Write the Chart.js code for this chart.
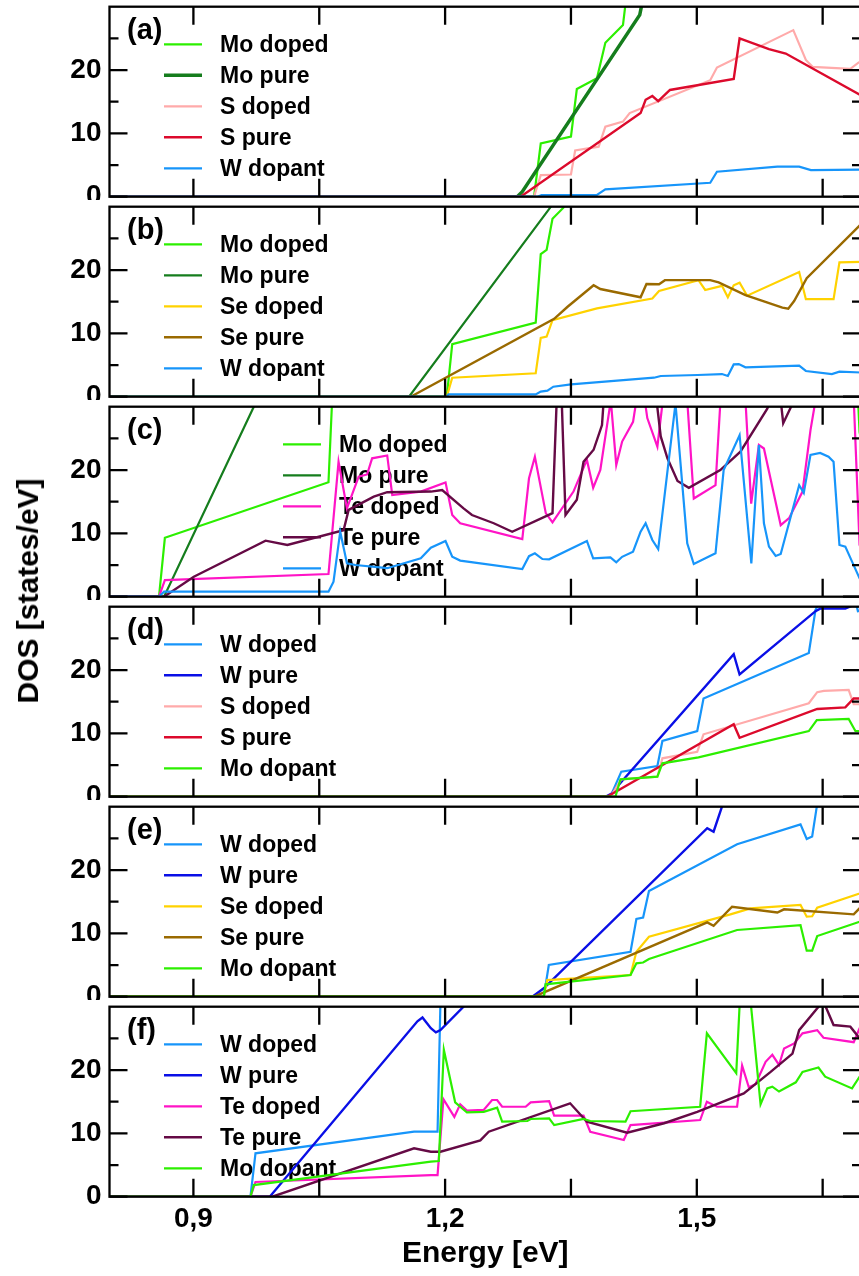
<!DOCTYPE html>
<html>
<head>
<meta charset="utf-8">
<script src="https://cdn.jsdelivr.net/npm/chart.js@4/dist/chart.umd.min.js"></script>
<style>
  html, body { margin: 0; padding: 0; background: #fff; }
  body { width: 859px; height: 1276px; overflow: hidden; position: relative; }
  canvas { position: absolute; left: 0; background: #fff; }
  #ytitle {
    position: absolute; left: 28px; top: 591px;
    transform: translate(-50%, -50%) rotate(-90deg);
    font: bold 30px "Liberation Sans", Arial, sans-serif;
    white-space: nowrap; color: #000; z-index: 10;
  }
</style>
</head>
<body>
<canvas id="pa" width="880" height="200" style="top:0px"></canvas>
<canvas id="pb" width="880" height="200" style="top:200px"></canvas>
<canvas id="pc" width="880" height="200" style="top:400px"></canvas>
<canvas id="pd" width="880" height="200" style="top:600px"></canvas>
<canvas id="pe" width="880" height="200" style="top:800px"></canvas>
<canvas id="pf" width="880" height="276" style="top:1000px"></canvas>
<div id="ytitle">DOS [states/eV]</div>
<script>
// axes
const xTickValues = [0.9, 1.05, 1.2, 1.35, 1.5, 1.65];
const xTickLabels = ["0,9", "", "1,2", "", "1,5", ""];
const yTickValues = [0, 10, 20];
const yMinorValues = [5, 15, 25];

// panel (a) : [energy eV, DOS]
const aMoDoped = [[0.80,0],[1.306,0],[1.314,8.4],[1.350,9.5],[1.357,17.0],[1.381,18.7],[1.391,24.3],[1.412,27.1],[1.420,36]];
const aMoPure = [[0.80,0],[1.286,0],[1.292,0.8],[1.432,28.7],[1.440,34]];
const aSDoped = [[0.80,0],[1.306,0],[1.314,3.4],[1.350,3.5],[1.355,7.3],[1.383,7.9],[1.391,11.05],[1.412,11.85],[1.420,13.2],[1.516,18.4],[1.524,20.4],[1.615,26.3],[1.630,21.6],[1.638,20.5],[1.683,20.2],[1.693,21.2],[1.70,21.5]];
const aSPure = [[0.80,0],[1.290,0],[1.433,13.2],[1.439,15.3],[1.447,15.9],[1.454,15.1],[1.468,16.85],[1.544,18.6],[1.551,25.0],[1.586,23.3],[1.606,22.6],[1.70,15.7]];
const aWDopant = [[0.80,0],[1.310,0],[1.315,0.25],[1.381,0.3],[1.391,1.16],[1.516,2.2],[1.524,3.95],[1.596,4.74],[1.622,4.74],[1.636,4.2],[1.70,4.27]];

// panel (b)
const bMoDoped = [[0.80,0],[1.202,0],[1.2085,8.3],[1.308,11.7],[1.314,22.5],[1.321,23.2],[1.328,28.1],[1.341,29.85],[1.350,33]];
const bMoPure = [[0.80,0],[1.157,0],[1.325,29.8],[1.335,31.6]];
const bSeDoped = [[0.80,0],[1.202,0],[1.2085,3.0],[1.308,3.7],[1.314,9.3],[1.321,9.5],[1.328,12.1],[1.381,13.95],[1.447,15.5],[1.455,16.7],[1.502,18.4],[1.510,16.85],[1.530,17.5],[1.537,15.7],[1.544,17.6],[1.551,18.0],[1.560,15.95],[1.622,19.7],[1.630,15.4],[1.663,15.4],[1.670,21.2],[1.70,21.3]];
const bSePure = [[0.80,0],[1.159,0],[1.330,12.3],[1.346,14.2],[1.377,17.6],[1.385,17.0],[1.433,15.7],[1.440,17.8],[1.455,17.75],[1.462,18.4],[1.516,18.4],[1.526,18.05],[1.558,16.05],[1.602,14.06],[1.609,13.9],[1.616,15.1],[1.631,18.7],[1.694,27.0],[1.70,27.8]];
const bWDopant = [[0.80,0],[1.202,0],[1.204,0.37],[1.308,0.37],[1.314,0.8],[1.322,0.95],[1.329,1.58],[1.350,1.95],[1.449,3.0],[1.457,3.27],[1.501,3.43],[1.530,3.58],[1.537,3.27],[1.544,5.1],[1.550,5.15],[1.558,4.64],[1.622,4.9],[1.630,4.06],[1.661,3.58],[1.670,3.95],[1.70,3.8]];

// panel (c)
const cMoDoped = [[0.80,0],[0.859,0],[0.866,9.3],[1.061,18.06],[1.065,30],[1.068,40],[1.689,40],[1.694,26],[1.70,22]];
const cMoPure = [[0.80,0],[0.865,0],[0.972,30],[0.98,32.2]];
const cTeDoped = [[0.80,0],[0.859,0],[0.866,2.63],[1.061,3.58],[1.073,21.3],[1.083,13.95],[1.097,18.95],[1.107,19.3],[1.113,21.85],[1.131,22.3],[1.137,16.06],[1.171,16.6],[1.2005,18.05],[1.2085,12.9],[1.218,11.6],[1.292,9.1],[1.300,18.7],[1.307,22.1],[1.320,13.2],[1.328,11.75],[1.353,16.6],[1.369,21.6],[1.3765,17.2],[1.385,20.0],[1.3975,31],[1.404,20.8],[1.411,24.5],[1.424,27.6],[1.428,31],[1.438,31],[1.441,28.2],[1.453,23.7],[1.4595,31],[1.4886,31],[1.4964,15.5],[1.5223,17.6],[1.5282,31],[1.558,31],[1.5648,14.7],[1.574,23.95],[1.580,23.4],[1.600,11.3],[1.610,12.4],[1.626,16.6],[1.6355,26.3],[1.6415,31],[1.6871,31],[1.694,8.2],[1.70,6]];
const cTePure = [[0.80,0],[0.865,0],[0.9005,3.16],[0.986,8.85],[1.012,8.16],[1.079,10.5],[1.085,13.7],[1.115,15.8],[1.131,16.5],[1.183,16.6],[1.1965,16.85],[1.222,13.95],[1.232,12.9],[1.258,11.6],[1.280,10.26],[1.328,13.2],[1.333,31],[1.339,31],[1.3435,12.9],[1.357,15.3],[1.365,21.3],[1.377,23.2],[1.387,27.1],[1.389,31],[1.452,31],[1.457,25.3],[1.465,21.85],[1.477,18.27],[1.4905,17.2],[1.528,20.0],[1.552,22.9],[1.584,29.7],[1.588,31],[1.600,31],[1.603,27.4],[1.616,31],[1.70,33]];
const cWDopant = [[0.80,0],[0.859,0],[0.865,0.8],[1.061,0.8],[1.067,2.37],[1.075,10.26],[1.083,5.27],[1.093,5.0],[1.131,4.5],[1.171,6.06],[1.183,7.74],[1.2005,8.8],[1.2085,6.3],[1.218,5.7],[1.292,4.37],[1.300,6.4],[1.307,6.85],[1.316,5.95],[1.324,5.9],[1.369,8.8],[1.3765,6.06],[1.397,6.2],[1.404,5.43],[1.411,6.3],[1.424,7.1],[1.433,10.26],[1.439,11.6],[1.447,8.95],[1.454,7.53],[1.4746,30.5],[1.4886,8.43],[1.4964,5.16],[1.5223,6.85],[1.532,20.0],[1.551,25.5],[1.565,5.27],[1.574,23.95],[1.580,11.6],[1.586,7.9],[1.594,6.43],[1.600,6.74],[1.622,17.6],[1.6275,16.4],[1.6355,22.4],[1.647,22.7],[1.657,22.1],[1.663,21.3],[1.670,8.16],[1.677,7.9],[1.694,2.9],[1.70,1.5]];

// panel (d)
const dWDoped = [[0.80,0],[1.397,0],[1.410,3.95],[1.453,4.85],[1.459,8.8],[1.5005,10.37],[1.508,15.5],[1.6335,22.7],[1.6415,29.5],[1.6474,31],[1.689,31],[1.692,29.3],[1.70,29.5]];
const dWPure = [[0.80,0],[1.391,0],[1.399,0.53],[1.405,1.58],[1.544,22.5],[1.551,19.3],[1.6415,29.3],[1.647,29.7],[1.677,29.7],[1.70,31]];
const dSDoped = [[0.80,0],[1.397,0],[1.410,2.74],[1.453,3.16],[1.459,6.06],[1.5005,7.1],[1.508,9.85],[1.6335,14.75],[1.6435,16.5],[1.6514,16.7],[1.681,16.85],[1.687,14.6],[1.70,14.6]];
const dSPure = [[0.80,0],[1.393,0],[1.544,11.43],[1.551,9.3],[1.6435,13.85],[1.677,14.1],[1.687,15.5],[1.70,15.5]];
const dMoDopant = [[0.80,0],[1.403,0],[1.409,2.74],[1.453,3.16],[1.459,5.27],[1.502,6.2],[1.6335,10.37],[1.643,12.1],[1.681,12.27],[1.689,10.37],[1.70,10.37]];

// panel (e)
const eWDoped = [[0.80,0],[1.3176,0],[1.3236,5.0],[1.421,7.1],[1.428,12.27],[1.436,12.5],[1.443,16.7],[1.548,24.06],[1.6236,27.2],[1.631,24.9],[1.6375,25.3],[1.643,30],[1.646,32]];
const eWPure = [[0.80,0],[1.304,0],[1.3176,1.32],[1.5124,26.6],[1.520,26.05],[1.530,30],[1.535,31.5]];
const eSeDoped = [[0.80,0],[1.3176,0],[1.3217,2.63],[1.421,3.42],[1.428,7.1],[1.443,9.47],[1.540,13.0],[1.564,13.95],[1.6236,14.48],[1.631,12.63],[1.6375,12.7],[1.6435,14.05],[1.694,16.3],[1.70,16.6]];
const eSePure = [[0.80,0],[1.306,0],[1.5124,11.74],[1.520,11.2],[1.542,14.2],[1.596,13.3],[1.604,13.8],[1.687,13.0],[1.694,13.95],[1.70,14.3]];
const eMoDopant = [[0.80,0],[1.3176,0],[1.3197,1.95],[1.421,3.42],[1.428,5.27],[1.436,5.4],[1.443,5.95],[1.548,10.53],[1.6236,11.3],[1.631,7.27],[1.6375,7.27],[1.6435,9.58],[1.694,11.84],[1.70,12.1]];

// panel (f)
const fWDoped = [[0.80,0],[0.968,0],[0.974,6.85],[1.163,10.26],[1.191,10.26],[1.1945,31]];
const fWPure = [[0.80,0],[0.991,0],[1.167,27.7],[1.173,28.3],[1.183,26.6],[1.189,25.95],[1.1945,26.3],[1.222,30],[1.23,31]];
const fTeDoped = [[0.80,0],[0.968,0],[0.974,2.32],[1.183,3.42],[1.191,3.42],[1.198,15.4],[1.211,12.6],[1.218,14.6],[1.226,13.6],[1.246,13.7],[1.256,15.27],[1.262,15.27],[1.268,14.2],[1.296,14.2],[1.302,14.9],[1.324,15.1],[1.330,12.8],[1.365,12.8],[1.373,10.26],[1.413,8.95],[1.421,11.3],[1.504,12.1],[1.512,15.0],[1.524,14.2],[1.548,14.2],[1.554,20.7],[1.562,17.27],[1.570,17.75],[1.582,21.3],[1.590,22.4],[1.598,20.8],[1.604,23.4],[1.616,24.2],[1.626,25.8],[1.6435,26.3],[1.651,25.1],[1.687,24.4],[1.694,26.6],[1.70,27]];
const fTePure = [[0.80,0],[0.994,0],[1.163,7.64],[1.183,7.1],[1.1945,7.1],[1.242,8.9],[1.252,10.26],[1.349,14.75],[1.369,11.84],[1.417,10.1],[1.461,11.6],[1.5005,13.4],[1.556,16.3],[1.588,19.7],[1.614,22.6],[1.622,26.3],[1.647,30.3],[1.652,30.5],[1.663,27.1],[1.683,26.85],[1.694,25.0],[1.70,24.5]];
const fMoDopant = [[0.80,0],[0.968,0],[0.972,1.84],[1.183,5.53],[1.1925,5.64],[1.1985,23.2],[1.212,14.9],[1.226,13.3],[1.246,13.4],[1.262,14.05],[1.268,11.84],[1.298,11.95],[1.302,12.27],[1.324,12.37],[1.330,11.3],[1.365,12.27],[1.373,11.95],[1.415,11.84],[1.421,13.5],[1.504,14.2],[1.512,25.8],[1.547,19.5],[1.5513,31],[1.564,31],[1.576,14.6],[1.584,17.1],[1.590,17.37],[1.598,16.6],[1.618,18.06],[1.626,19.7],[1.645,20.4],[1.653,18.95],[1.685,17.1],[1.694,18.95],[1.70,19.5]];

// couleurs
const LIME = "#2cef00";
const DKGREEN = "#157d1d";
const PINK = "#ffaaaa";
const RED = "#dc0a2c";
const LTBLUE = "#1795fa";
const GOLD = "#ffd200";
const BROWN = "#9a6a00";
const MAGENTA = "#ff14c6";
const PURPLE = "#650a45";
const BLUE = "#0a0fe6";

const FONT = '"Liberation Sans", Arial, Helvetica, sans-serif';

const panels = [
  { id: "pa", tag: "(a)", legendX: 164, series: [
    ["Mo doped", aMoDoped, LIME, 2.2], ["Mo pure", aMoPure, DKGREEN, 3.5],
    ["S doped", aSDoped, PINK, 2.2], ["S pure", aSPure, RED, 2.4], ["W dopant", aWDopant, LTBLUE, 2.2]] },
  { id: "pb", tag: "(b)", legendX: 164, series: [
    ["Mo doped", bMoDoped, LIME, 2.2], ["Mo pure", bMoPure, DKGREEN, 2.2],
    ["Se doped", bSeDoped, GOLD, 2.2], ["Se pure", bSePure, BROWN, 2.4], ["W dopant", bWDopant, LTBLUE, 2.2]] },
  { id: "pc", tag: "(c)", legendX: 283, series: [
    ["Mo doped", cMoDoped, LIME, 2.2], ["Mo pure", cMoPure, DKGREEN, 2.2],
    ["Te doped", cTeDoped, MAGENTA, 2.2], ["Te pure", cTePure, PURPLE, 2.4], ["W dopant", cWDopant, LTBLUE, 2.2]] },
  { id: "pd", tag: "(d)", legendX: 164, series: [
    ["W doped", dWDoped, LTBLUE, 2.2], ["W pure", dWPure, BLUE, 2.4],
    ["S doped", dSDoped, PINK, 2.2], ["S pure", dSPure, RED, 2.4], ["Mo dopant", dMoDopant, LIME, 2.2]] },
  { id: "pe", tag: "(e)", legendX: 164, series: [
    ["W doped", eWDoped, LTBLUE, 2.2], ["W pure", eWPure, BLUE, 2.4],
    ["Se doped", eSeDoped, GOLD, 2.2], ["Se pure", eSePure, BROWN, 2.4], ["Mo dopant", eMoDopant, LIME, 2.2]] },
  { id: "pf", tag: "(f)", legendX: 164, series: [
    ["W doped", fWDoped, LTBLUE, 2.2], ["W pure", fWPure, BLUE, 2.4],
    ["Te doped", fTeDoped, MAGENTA, 2.2], ["Te pure", fTePure, PURPLE, 2.4], ["Mo dopant", fMoDopant, LIME, 2.2]] }
];

// legende + lettre du panneau, dessinees sous les courbes
const insetLegend = {
  id: "insetLegend",
  beforeDatasetsDraw(chart, args, opts) {
    const { ctx, chartArea } = chart;
    ctx.save();
    ctx.fillStyle = "#000";
    ctx.textAlign = "left";
    ctx.textBaseline = "middle";
    ctx.font = "bold 29px " + FONT;
    ctx.fillText(opts.tag, 127, chartArea.top + 24);
    ctx.font = "bold 23px " + FONT;
    chart.data.datasets.forEach((ds, i) => {
      const y = chartArea.top + 37.6 + i * 31;
      ctx.strokeStyle = ds.borderColor;
      ctx.lineWidth = ds.borderWidth;
      ctx.beginPath();
      ctx.moveTo(opts.x, y);
      ctx.lineTo(opts.x + 38, y);
      ctx.stroke();
      ctx.fillText(ds.label, opts.x + 56, y + 1);
    });
    ctx.restore();
  }
};

// cadre + graduations vers l'interieur sur les 4 cotes
const frameTicks = {
  id: "frameTicks",
  afterDatasetsDraw(chart) {
    const { ctx, chartArea: { left, right, top, bottom }, scales: { x, y } } = chart;
    ctx.save();
    ctx.strokeStyle = "#000";
    ctx.lineWidth = 2.3;
    ctx.strokeRect(left, top, right - left, bottom - top);
    ctx.beginPath();
    xTickValues.forEach(v => {
      const px = x.getPixelForValue(v);
      ctx.moveTo(px, bottom); ctx.lineTo(px, bottom - 18);
      ctx.moveTo(px, top); ctx.lineTo(px, top + 18);
    });
    yTickValues.forEach(v => {
      const py = y.getPixelForValue(v);
      ctx.moveTo(left, py); ctx.lineTo(left + 18, py);
      ctx.moveTo(right, py); ctx.lineTo(right - 18, py);
    });
    yMinorValues.forEach(v => {
      const py = y.getPixelForValue(v);
      ctx.moveTo(left, py); ctx.lineTo(left + 9, py);
      ctx.moveTo(right, py); ctx.lineTo(right - 9, py);
    });
    ctx.stroke();
    ctx.restore();
  }
};

panels.forEach((p, k) => {
  const last = k === panels.length - 1;
  new Chart(document.getElementById(p.id), {
    type: "line",
    data: {
      datasets: p.series.map(([label, pts, color, w], i) => ({
        label: label,
        data: pts.map(([e, v]) => ({ x: e, y: v })),
        borderColor: color,
        backgroundColor: color,
        borderWidth: w,
        pointRadius: 0,
        tension: 0,
        fill: false,
        order: -i
      }))
    },
    options: {
      responsive: false,
      animation: false,
      devicePixelRatio: 1,
      layout: { padding: { top: 6.7, right: 19, bottom: last ? 0 : 3.3, left: 0 } },
      scales: {
        x: {
          type: "linear",
          min: 0.8,
          max: 1.6957,
          display: last,
          afterBuildTicks: s => { s.ticks = xTickValues.map(v => ({ value: v })); },
          afterFit: s => {
            s.height = last ? 79.3 : 0;
            s.paddingLeft = 0; s.paddingRight = 0;
          },
          grid: { display: false, drawTicks: false },
          border: { display: false },
          ticks: {
            autoSkip: false, maxRotation: 0, padding: 6, color: "#000",
            font: { family: FONT, size: 28, weight: "bold" },
            callback: (v, i) => xTickLabels[i]
          },
          title: {
            display: true, text: "Energy [eV]", color: "#000",
            font: { family: FONT, size: 30, weight: "bold" },
            padding: { top: 0, bottom: 4 }
          }
        },
        y: {
          min: 0,
          max: 30,
          afterBuildTicks: s => { s.ticks = yTickValues.map(v => ({ value: v })); },
          afterFit: s => { s.width = 109.5; s.paddingTop = 0; s.paddingBottom = 0; },
          grid: { display: false, drawTicks: false },
          border: { display: false },
          ticks: { padding: 8, color: "#000", font: { family: FONT, size: 28, weight: "bold" } }
        }
      },
      plugins: {
        legend: { display: false },
        tooltip: { enabled: false },
        insetLegend: { tag: p.tag, x: p.legendX }
      }
    },
    plugins: [insetLegend, frameTicks]
  });
});
</script>
</body>
</html>
